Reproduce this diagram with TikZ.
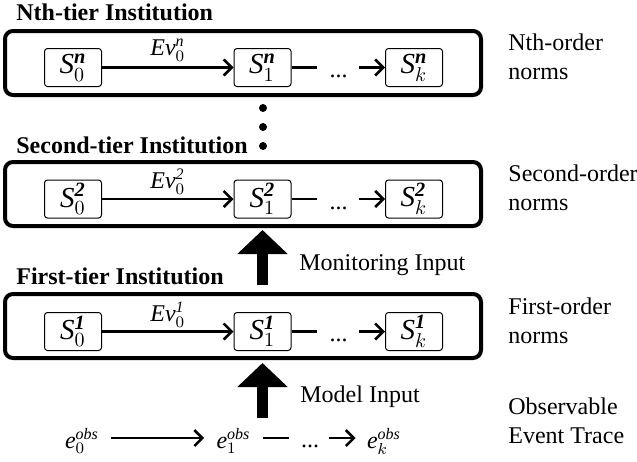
\documentclass[tikz,border=0pt]{standalone}
\usepackage{amsmath}
\usepackage[no-math]{fontspec}
\setmainfont{Liberation Serif}
\usetikzlibrary{arrows.meta}
\begin{document}
\begin{tikzpicture}[x=0.5pt,y=-0.5pt, font=\fontsize{12}{14.5}\selectfont,
 outerbox/.style={draw, line width=2pt, rounded corners=4pt, minimum width=238pt, minimum height=32pt, inner sep=0pt},
 statebox/.style={draw, line width=0.5pt, rounded corners=1.5pt, minimum width=28.5pt, minimum height=19pt, inner sep=0pt, font=\fontsize{14.5}{16}\selectfont},
 conn/.style={line width=1.3pt, -{Straight Barb[length=4pt,width=8pt]}},
 plainline/.style={line width=1.3pt},
 bigarrow/.style={line width=5.5pt, -{Triangle[length=12pt,width=24.5pt]}},
 titletext/.style={font=\fontsize{12}{14.5}\selectfont\bfseries, anchor=base west, inner sep=0pt},
 sidetext/.style={align=left, anchor=west, inner sep=0pt},
 vdot/.style={circle, fill, inner sep=0pt, minimum size=4pt},
 ellip/.style={inner sep=0pt, anchor=base},
 plaintext/.style={inner sep=0pt, anchor=base west},
 evtext/.style={inner sep=0pt, anchor=base},
]
\useasboundingbox (0,0) rectangle (637,461);

% ---------- Nth tier ----------
\node[titletext] (tN) at (16,20) {Nth-tier Institution};
\node[outerbox] (bN) at (243,63) {};
\node[statebox] (sN0) at (73,67.5) {\textit{S}$^{\textbf{\textit{n}}}_{0}$};
\node[statebox] (sN1) at (262.5,67.5) {\textit{S}$^{\textbf{\textit{n}}}_{1}$};
\node[statebox] (sNk) at (414,67.5) {\textit{S}$^{\textbf{\textit{n}}}_{k}$};
\node[ellip] (dN) at (338.5,77.5) {...};
\draw[conn] (sN0) -- node[midway, yshift=8.5pt, inner sep=0pt] {\textit{Ev}$^{\textit{n}}_{0}$} (sN1);
\draw[plainline, shorten >=6pt] (sN1.east) -- (sN1.east -| dN.west);
\draw[conn, shorten <=5.5pt] (dN.east |- sNk.west) -- (sNk.west);
\node[sidetext] (lN) at (508,57) {Nth-order\\norms};

% ---------- vertical dots ----------
\node[vdot] (v1) at (263,108) {};
\node[vdot] (v2) at (263,127) {};
\node[vdot] (v3) at (263,146) {};

% ---------- Second tier ----------
\node[titletext] (t2) at (16,153) {Second-tier Institution};
\node[outerbox] (b2) at (243,194) {};
\node[statebox] (s20) at (73,199) {\textit{S}$^{\textbf{\textit{2}}}_{0}$};
\node[statebox] (s21) at (262.5,199) {\textit{S}$^{\textbf{\textit{2}}}_{1}$};
\node[statebox] (s2k) at (414,199) {\textit{S}$^{\textbf{\textit{2}}}_{k}$};
\node[ellip] (d2) at (338.5,209) {...};
\draw[conn] (s20) -- node[midway, yshift=8.5pt, inner sep=0pt] {\textit{Ev}$^{\textit{2}}_{0}$} (s21);
\draw[plainline, shorten >=6pt] (s21.east) -- (s21.east -| d2.west);
\draw[conn, shorten <=5.5pt] (d2.east |- s2k.west) -- (s2k.west);
\node[sidetext] (l2) at (508,188) {Second-order\\norms};

% ---------- First tier ----------
\node[titletext] (t1) at (16,284) {First-tier Institution};
\node[outerbox] (b1) at (243,326) {};
\node[statebox] (s10) at (73,331.5) {\textit{S}$^{\textbf{\textit{1}}}_{0}$};
\node[statebox] (s11) at (262.5,331.5) {\textit{S}$^{\textbf{\textit{1}}}_{1}$};
\node[statebox] (s1k) at (414,331.5) {\textit{S}$^{\textbf{\textit{1}}}_{k}$};
\node[ellip] (d1) at (338.5,341.5) {...};
\draw[conn] (s10) -- node[midway, yshift=8.5pt, inner sep=0pt] {\textit{Ev}$^{\textit{1}}_{0}$} (s11);
\draw[plainline, shorten >=6pt] (s11.east) -- (s11.east -| d1.west);
\draw[conn, shorten <=5.5pt] (d1.east |- s1k.west) -- (s1k.west);
\node[sidetext] (l1) at (508,321) {First-order\\norms};

% ---------- big arrows ----------
\draw[bigarrow, shorten <=3.5pt, shorten >=1pt] (s11 |- b1.north) -- (s21 |- b2.south);
\node[plaintext] (monlab) at (299,270) {Monitoring Input};
\coordinate (mi) at (262.5,418);
\draw[bigarrow, shorten >=1.5pt] (mi) -- (mi |- b1.south);
\node[plaintext] (modlab) at (300,402) {Model Input};

% ---------- observable trace ----------
\node[evtext] (e0) at (82,448) {\textit{e}$^{\textit{obs}}_{0}$};
\node[evtext] (e1) at (233.5,448) {\textit{e}$^{\textit{obs}}_{1}$};
\node[evtext] (ek) at (384,448) {\textit{e}$^{\textit{obs}}_{k}$};
\node[ellip] (de) at (310,447) {...};
\coordinate (ea) at ([yshift=1.5pt]e0.east);
\coordinate (eb) at ([yshift=1.5pt]e1.east);
\draw[conn, shorten <=6pt, shorten >=6pt] (ea) -- (ea -| e1.west);
\draw[plainline, shorten <=6pt, shorten >=6pt] (eb) -- (eb -| de.west);
\draw[conn, shorten <=5pt, shorten >=5.5pt] (eb -| de.east) -- (eb -| ek.west);
\node[sidetext] (lo) at (508,421) {Observable\\Event Trace};
\end{tikzpicture}
\end{document}
